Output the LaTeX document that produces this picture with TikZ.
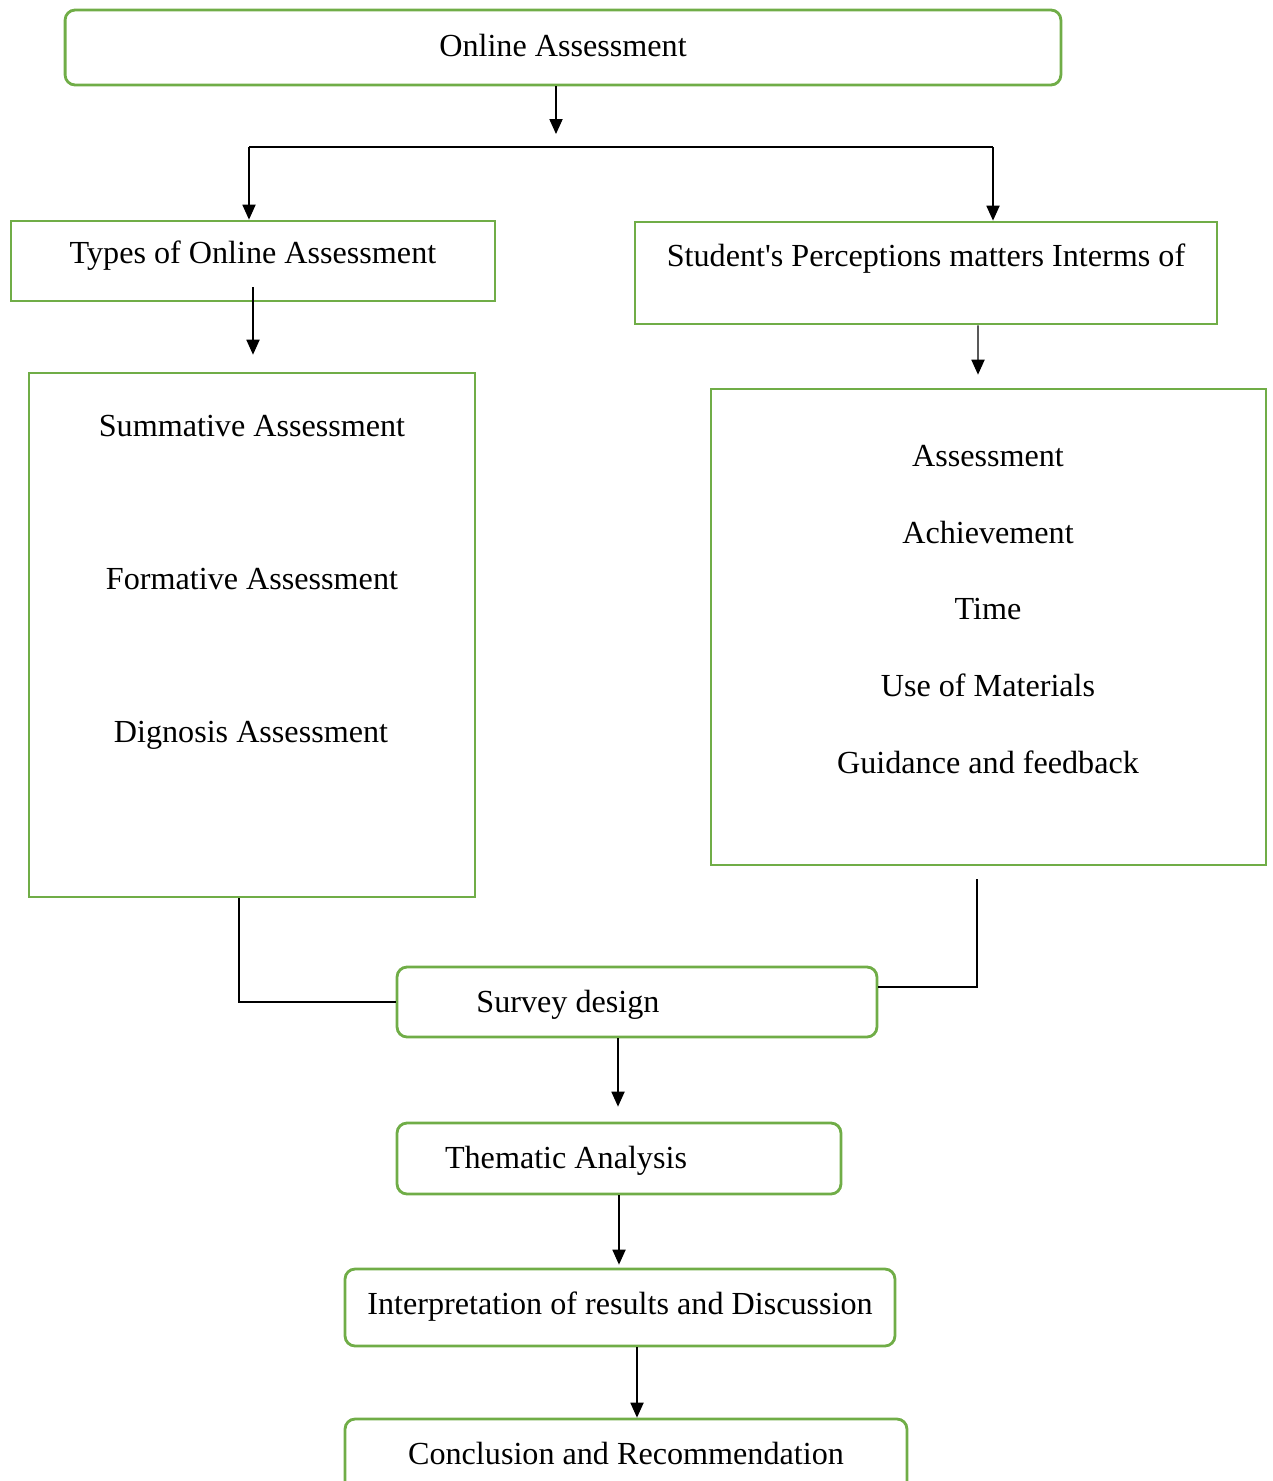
\documentclass[tikz,border=0pt]{standalone}
\usepackage{fontspec}
\setmainfont{Liberation Serif}
\usetikzlibrary{arrows.meta, positioning}
\definecolor{boxgreen}{HTML}{70AD47}

\begin{document}
\begin{tikzpicture}[
    x=0.02cm, y=-0.02cm, >={Triangle[length=8.5pt,width=7.5pt]},
    box/.style={draw=boxgreen, line width=1.6pt, inner sep=0pt},
    roundbox/.style={box, rounded corners=0.2cm},
    txt/.style={font=\fontsize{18.3}{22}\selectfont, inner sep=0pt, anchor=base},
    link/.style={line width=0.7pt}
  ]
  \useasboundingbox (0,0) rectangle (1272,1481);

  % Top box
  \node[roundbox, minimum width=19.92cm, minimum height=1.5cm] (online) at (563,47.5) {};
  \node[txt] (t-online) at (563,56) {Online Assessment};

  % Two branches
  \node[box, minimum width=9.68cm, minimum height=1.6cm] (types) at (253,261) {};
  \node[txt] (t-types) at (253,263) {Types of Online Assessment};
  \node[box, minimum width=11.64cm, minimum height=2.04cm] (student) at (926,273) {};
  \node[txt] (t-student) at (926,266) {Student\textquotesingle s Perceptions matters Interms of};

  % Left list
  \node[box, minimum width=8.92cm, minimum height=10.48cm] (typelist) at (252,635) {};
  \node[txt] (t-summ) at (252,436) {Summative Assessment};
  \node[txt] (t-form) at (252,589) {Formative Assessment};
  \node[txt] (t-diag) at (251,742) {Dignosis Assessment};

  % Right list
  \node[box, minimum width=11.1cm, minimum height=9.52cm] (perclist) at (988.5,627) {};
  \node[txt] (t-assess) at (988,466) {Assessment};
  \node[txt] (t-achieve) at (988,543) {Achievement};
  \node[txt] (t-time) at (988,619) {Time};
  \node[txt] (t-mat) at (988,696) {Use of Materials};
  \node[txt] (t-guide) at (988,773) {Guidance and feedback};

  % Method steps
  \node[roundbox, minimum width=9.6cm, minimum height=1.4cm] (survey) at (637,1002) {};
  \node[txt] (t-survey) at (568,1012) {Survey design};
  \node[roundbox, minimum width=8.88cm, minimum height=1.42cm] (thematic) at (619,1158.5) {};
  \node[txt] (t-thematic) at (566,1168) {Thematic Analysis};
  \node[roundbox, minimum width=11cm, minimum height=1.54cm] (interp) at (620,1307.5) {};
  \node[txt] (t-interp) at (620,1314) {Interpretation of results and Discussion};
  \node[roundbox, minimum width=11.24cm, minimum height=2cm] (conclusion) at (626,1469) {};
  \node[txt] (t-concl) at (626,1464) {Conclusion and Recommendation};

  % Fork below the top box
  \coordinate (split) at (556,147);
  \coordinate (forkL) at (249,147);
  \coordinate (forkR) at (993,147);
  \draw[link, ->, shorten >=0.26cm] (online.south -| split) -- (split);
  \draw[link] (forkL) -- (forkR);
  \draw[link, ->] (forkL) -- (forkL |- types.north);
  \draw[link, ->] (forkR) -- (forkR |- student.north);

  % Into the lists
  \draw[link, ->, shorten <=-0.3cm, shorten >=0.34cm] (types.south) -- (types.south |- typelist.north);
  \draw[link, ->, shorten >=0.26cm] ([xshift=1.04cm]student.south) -- ([xshift=-0.21cm]perclist.north);

  % Lists join at the survey
  \draw[link] ([xshift=-0.26cm]typelist.south) |- (survey.west);
  \draw[link, shorten <=0.26cm] ([xshift=-0.23cm]perclist.south) |- ([yshift=0.3cm]survey.east);

  % Down the steps
  \draw[link, ->, shorten >=0.3cm] ([xshift=-0.38cm]survey.south) -- ([xshift=-0.38cm]survey.south |- thematic.north);
  \draw[link, ->, shorten >=0.06cm] (thematic.south) -- (thematic.south |- interp.north);
  \draw[link, ->] ([xshift=0.34cm]interp.south) -- ([xshift=0.34cm]interp.south |- conclusion.north);
\end{tikzpicture}
\end{document}
